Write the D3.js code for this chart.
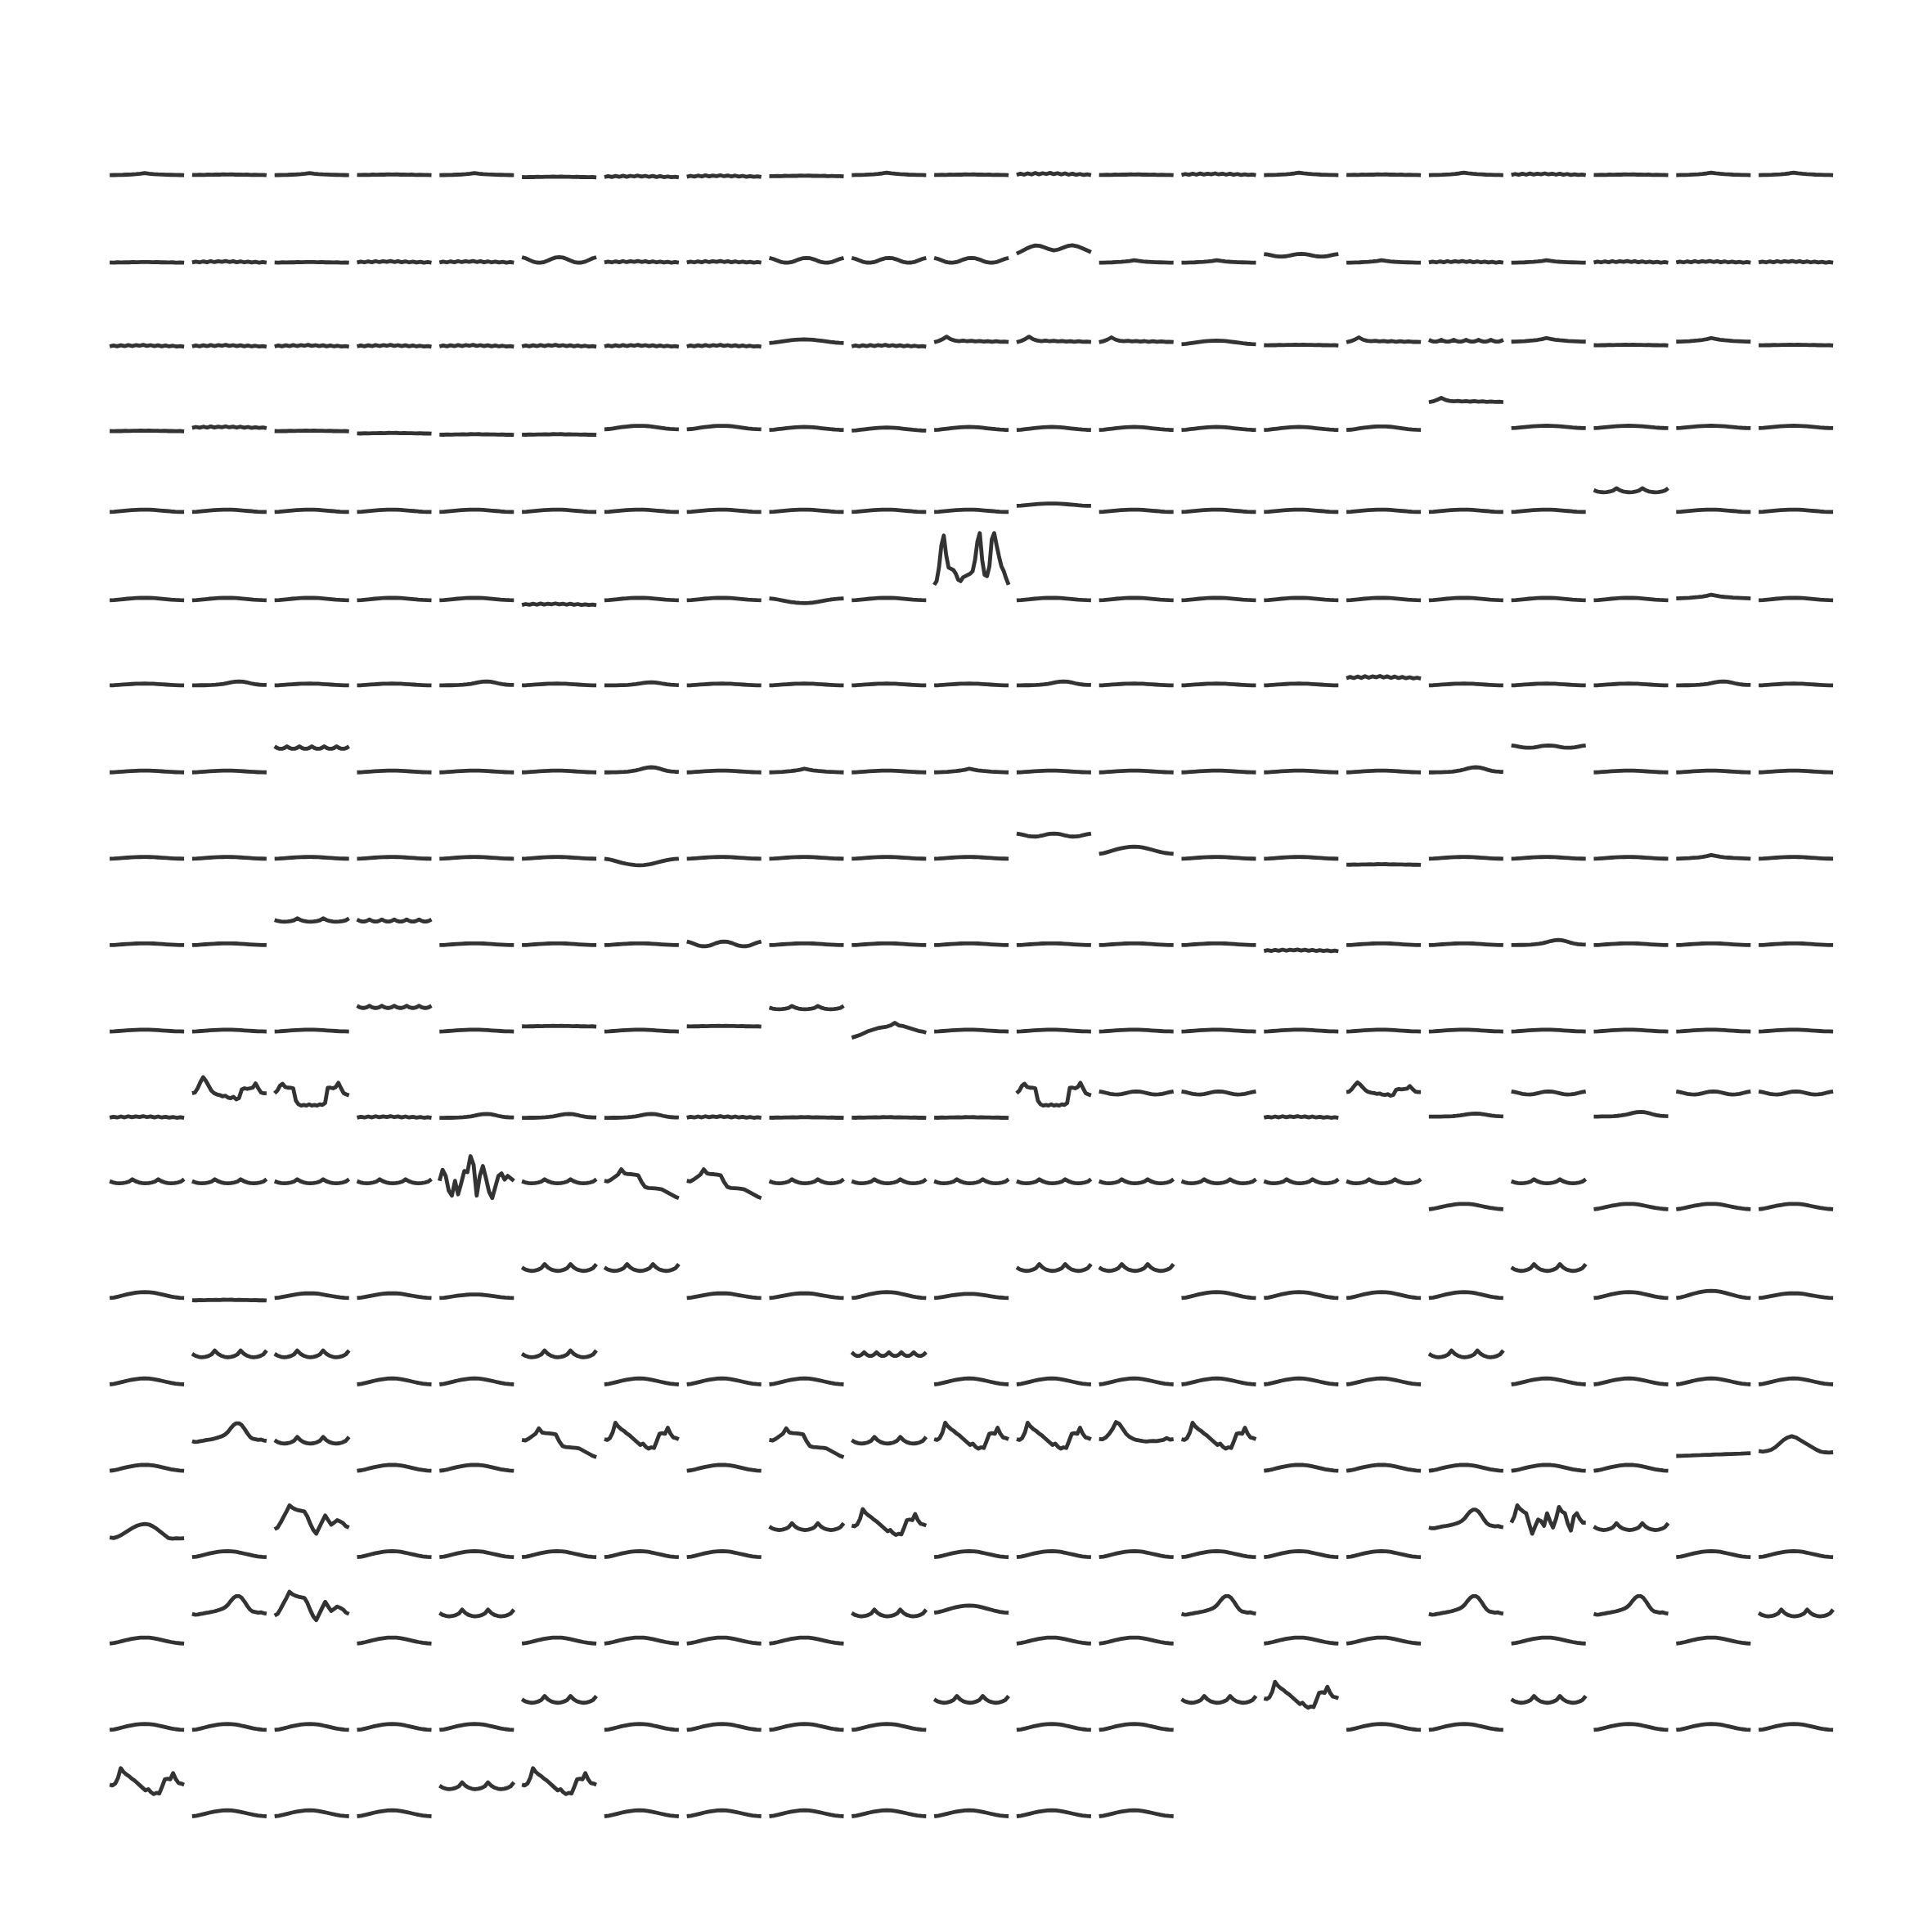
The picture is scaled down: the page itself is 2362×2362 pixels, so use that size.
<!DOCTYPE html>
<html><head><meta charset="utf-8">
<script src="https://cdn.jsdelivr.net/npm/d3@7"></script>
<style>html,body{margin:0;padding:0;background:#fff}</style>
</head><body>
<svg id="chart" width="2362" height="2362"></svg>
<script>
// ---- shape templates (in display units) ----
const tFlat = [0.2,0.1,0.3,0.2,0.4,0.3,0.5,0.4,0.6,0.5,0.6,0.4,0.5,0.3,0.4,0.2,0.3,0.1,0.2,0];
const tNoisy = [0.2,0.9,0.3,1.1,0.4,1.3,0.5,1.2,0.7,1.4,0.6,1.2,0.4,1.1,0.3,0.9,0.2,0.7,0.1,0.5,0];
const tBump = [0,0.1,0.2,0.3,0.5,0.7,1,1.4,2,1.5,1.1,0.8,0.6,0.4,0.3,0.2,0.1,0];
const tBumpRight = [0,0,0.1,0.1,0.2,0.3,0.5,0.8,1.2,1.8,2.5,3,3.2,3,2.4,1.6,1,0.6,0.4,0.3];
const tHump = [0,0.4,1.2,2.1,3,3.7,4.3,4.7,4.8,4.7,4.3,3.6,2.8,2,1.2,0.6,0.2,0];
const tSine = [3,2.4,1.5,0.6,0.1,0,0.4,1.2,2.1,2.8,3,2.8,2.1,1.2,0.4,0,0.1,0.6,1.5,2.4,3];
const tTwin = [0,1.5,3.2,4.6,5.5,5.2,4.2,3,2.2,2.8,4,5.2,5.6,5,3.8,2.4,1];
const tCusp = [0,0.6,1.6,3,1.6,0.9,0.6,0.9,0.5,0.8,0.4,0.7,0.3,0.6,0.2,0.5,0.2,0.3,0.1];
const tWave = [2.8,1.2,0.4,0,0.3,1,2.3,5.5,2.8,1.2,0.4,0,0.3,1,2.3,5.5,2.8,1.2,0.4,0,0.3,1,2.3,5.5];
const tZig = [3,1.2,0.2,0.2,1.2,3,1.2,0.2,0.2,1.2,3,1.2,0.2,0.2,1.2,3,1.2,0.2,0.2,1.2,3,1.2,0.2,0.2,1.2,3,1.2,0.2,0.2,1.2,3];
const tPeak = [0,-0.6,-0.5,0,0.4,0.9,1.2,1.6,2.1,2.7,3.4,4.2,5.5,7.5,10.5,13,14.5,14.5,13,10,6.5,3.5,2,1.5,1,1.3,0.6,0.2];
const tPeakSoft = [1,0.5,1,2,4,7,10,12,13,12,10,8,6,4,2,0.5,0,-0.3,0];
const tPeakDip = [1.7,1.5,3,6,10,15.5,14,10,6,3.5,2,1,0.5,0,-0.3,0,0.2,0,0.5,1,2.5,1.2,1.7];
const tM = [7.6,7,8.5,13,21,18,16,14.5,12.5,11,9,7,5,3,4,1.5,0,1,0.5,6,12,12.5,12,17,12,9,8.5,7.6];
const tStep = [14,13.5,15,17,19,23.4,20,19.5,19.4,19,18.5,13,9,8.2,8,7.8,7.5,7,5.5,4,2.5,1,0];
const tOsc = [25,34,29,17,13,25,14,23,33,32,45,38,13,29,37,27,16,11,20,29,31,26,29,27,25];
const tSpikes = [18,21,32,50,58,42,32,31,30,27,22,21,24,25,26,27,29,38,53,60,38,26,25,33,55,60,50,41,33,29,23,18];
const tQ = [5,5.5,9,14,18,15,11,7,5,4,3.5,2.5,3,1.5,1,2,0,1,8,9,8.5,9,9.5,13,9,5.5,5,5];
const tU = [10,12,16,17.7,15,14.5,14.4,14,4,1,0,0.5,0,1,0,0.5,0,1,0.5,2,14.4,14.5,14,15,18.4,14,10,9,8.3];
const tA = [3.7,5,9,13.6,18,23,21,19.8,19,18.5,18,14,8,3,0,5,10,14.8,11,7.4,9,11,10,8.6,6,5];
const tN = [9,14,23,20,18,16.6,8,0,6,11.5,10.2,6.4,16.6,10.2,5,12,21.7,18,16.6,8,2.6,14,16.6,12,9,9];
const tLopsided = [1,0.5,1.5,3,5,7,9,10.5,11.5,12,11.5,10,8,5.5,3,0.5,0,0.3,0.2,0.3];
const tRise = [0,1,2,3.5,5,6,7,8,8.5,9,10,12,10,9.5,8.5,7.5,6.5,5.5,5,4];
const tLine = [0,0.1,0.3,0.4,0.6,0.7,0.9,1,1.2,1.3,1.5,1.6,1.8,1.9,2.1,2.2];

const shapeCodes = {f:tFlat,g:tNoisy,b:tBump,e:tBumpRight,h:tHump,s:tSine,bb:tTwin,c:tCusp,w:tWave,z:tZig,
  p:tPeak,pp:tPeakSoft,pk:tPeakDip,M:tM,d:tStep,o:tOsc,t:tSpikes,q:tQ,u:tU,a:tA,n:tN,r:tLopsided,k:tRise,l:tLine};

// ---- cells: shape code + level [+ x amplitude], one string per row ----
const rowCells = [
 "b0x0.8 f0 b0x0.8 f0 b0x0.8 f-1.8 g-1.8 g-1.5 f-1 b0 f0 g0x1.3 f0 g0 b0 f0 b0 g0 f0 b0 b0",
 "f-1 g-1 f-1 g-1 g-1 s-1x1.5 g-1 g-1 s-1x1.3 s-1x1.3 s-1x1.3 bb6.4x1.2 b-1 b-1 s4x0.7 b-1 g-1 b-1 g-1 g-1 g-1",
 "g1 g1 g1 g1 g1 g1 g1 g1 h4x0.6 g1 c4.6x1.5 c4.6x1.5 c4.6x1.3 h3x0.6 f2 c4.6x1.3 z5x0.5 b5x1.5 f2 b5x1.5 f2",
 "f2.4 g5 f2.4 f0.5 f-0.5 f-0.5 h4x0.6 h4x0.6 h3.5x0.5 h3x0.5 h3.5x0.5 h3.5x0.5 h3.5x0.5 h3.5x0.5 h3.5x0.5 h3.5x0.6 c26x1.2 h5x0.4 h5x0.4 h5x0.4 h5x0.4",
 "h7x0.4 h7x0.4 h7x0.4 h7x0.4 h7x0.4 h7x0.4 h7x0.4 h7x0.4 h7x0.4 h7x0.4 h7x0.4 h12x0.4 h7x0.4 h7x0.4 h7x0.4 h7x0.4 h7x0.4 h7x0.4 w23x0.6 h7x0.4 h7x0.4",
 "h5.5x0.4 h5.5x0.4 h5.5x0.4 h5.5x0.4 h5.5x0.4 g1.5 h5.5x0.4 h5.5x0.4 h7x-0.8 h5.5x0.4 t0 h5.5x0.4 h5.5x0.4 h5.5x0.4 h5.5x0.4 h5.5x0.4 h5.5x0.4 h5.5x0.4 h5.5x0.4 b7x1.5 h5.5x0.4",
 "h6.5x0.3 e6.5 h6.5x0.3 h6.5x0.3 e6.5 h6.5x0.3 e6.5x0.8 h6.5x0.3 h6.5x0.3 h6.5x0.3 h6.5x0.3 e6.5 h6.5x0.3 h6.5x0.3 h6.5x0.3 g12x1.5 h6.5x0.3 h6.5x0.3 h6.5x0.3 e6.5 h6.5x0.3",
 "h6x0.3 h6x0.3 z25x0.7 h6x0.3 h6x0.3 h6x0.3 e6x1.3 h6x0.3 b6x1.5 h6x0.3 b6x1.5 h6x0.3 h6x0.3 h6x0.3 h6x0.3 h6x0.3 e6x1.3 s26x0.6 h6x0.3 h6x0.3 h6x0.3",
 "h6x0.3 h6x0.3 h6x0.3 h6x0.3 h6x0.3 h6x0.3 h6x-1.1 h6x0.3 h6x0.3 h6x0.3 h6x0.3 s24x0.8 h10x1.2 h6x0.3 h6x0.3 f1 h6x0.3 h6x0.3 h6x0.3 b6x1.5 h6x0.3",
 "h6x0.3 h6x0.3 w25x0.5 z25x0.6 h6x0.3 h6x0.3 h6x0.3 s5x1.3 h6x0.3 h6x0.3 h6x0.3 h6x0.3 h6x0.3 h6x0.3 g1 h6x0.3 h6x0.3 e6x1.3 h6x0.3 h6x0.3 h6x0.3",
 "h6x0.3 h6x0.3 h6x0.3 z25x0.6 h6x0.3 f10 h6x0.3 f10 w24x0.5 k1 h6x0.3 h6x0.3 h6x0.3 h6x0.3 h6x0.3 h6x0.3 h6x0.3 h6x0.3 h6x0.3 h6x0.3 h6x0.3",
 "g6 q21 u16 g6 e6 e6 e6 g6 f6 f6 f6 u16 s25x0.8 s25x0.8 g6 q24x0.6 e7x0.8 s25x0.8 e7x1.2 s25x0.8 s25x0.8",
 "w23x0.6 w23x0.6 w23x0.6 w23x0.6 o0 w23x0.6 d11 d11 w23x0.6 w23x0.6 w23x0.6 w23x0.6 w23x0.6 w23x0.6 w23x0.6 w23x0.6 h2x0.9 w23x0.6 h2x0.9 h2x0.9 h2x0.9",
 "h0 f-2 h0x0.8 h0x0.8 h0x0.6 w22 w22 h0x0.8 h0x0.8 h0 h0x0.7 w22 w22 h0 h0 h0 h0 w22 h0 h0x1.2 h0x0.8",
 "h0 w22 w22 h0 h0 w22 h0 h0 h0 z23 h0 h0 h0 h0 h0 h0 w22 h0 h0 h0 h0",
 "h0 p24 w22 h0 h0 d11 M18 h0 d11 w22 M18 M18 pk24 M18 h0 h0 h0 h0 h0 l12 pp15",
 "r15 h0 a19 h0 h0 h0 h0 h0 w22 M18 h0 h0 h0 h0 h0 h0 p24 n19 w22 h0 h0",
 "h0 p24 a19 h0 w22 h0 h0 h0 h0 w22 h25x1.2 h0 h0 p24 h0 h0 p24 h0 p24 h0 w22",
 "h0 h0 h0 h0 h0 w22 h0 h0 h0 h0 w22 h0 h0 w22 M18 h0 h0 w22 h0 h0 h0",
 "M18 h0 h0 h0 w22 M18 h0 h0 h0 h0 h0 h0 h0"
];

// ---- layout ----
const W = 2362, H = 2362;
const nCols = 21, nRows = rowCells.length;
const unit = 1.5064;            // one display unit in pixels
const cellW = 91;
const colX = d3.scaleLinear().domain([0, nCols - 1]).range([134.1, 134.1 + 100.8 * (nCols - 1)]);
const rowY = d3.scaleLinear().domain([0, nRows - 1]).range([214.1, 214.1 + 105.6 * (nRows - 1)]);

const svg = d3.select("#chart");
svg.append("rect").attr("width", W).attr("height", H).attr("fill", "#fff");

const cells = [];
rowCells.forEach((row, r) => {
  row.trim().split(/\s+/).forEach((tok, c) => {
    const m = tok.match(/^([A-Za-z]+)(-?[\d.]+)(?:x(-?[\d.]+))?$/);
    const tpl = shapeCodes[m[1]];
    const level = +m[2];
    const amp = m[3] !== undefined ? +m[3] : 1;
    cells.push({r, c, values: tpl.map(v => level + amp * v)});
  });
});

const g = svg.append("g");
cells.forEach(cell => {
  const x0 = colX(cell.c);
  const base = rowY(cell.r);
  const x = d3.scaleLinear().domain([0, cell.values.length - 1]).range([x0, x0 + cellW]);
  const y = d3.scaleLinear().domain([0, 70]).range([base, base - 70 * unit]);
  const line = d3.line().x((d, i) => x(i)).y(d => y(d)).curve(d3.curveLinear);
  g.append("path")
    .attr("d", line(cell.values))
    .attr("fill", "none")
    .attr("stroke", "#333333")
    .attr("stroke-width", 4.8)
    .attr("stroke-linejoin", "round")
    .attr("stroke-linecap", "butt");
});
</script>
</body></html>
